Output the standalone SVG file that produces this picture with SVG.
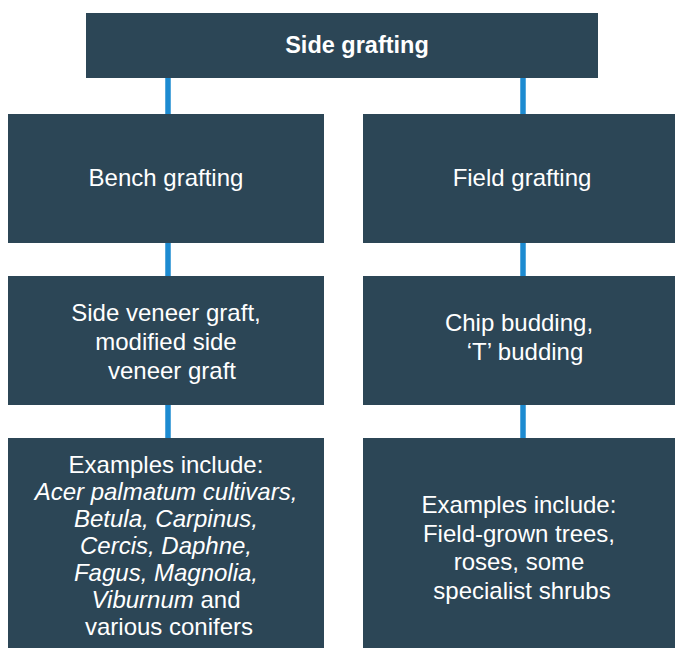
<svg xmlns="http://www.w3.org/2000/svg" width="675" height="648" viewBox="0 0 675 648">
<style>
.box{fill:#2c4656}
.t{font-family:"Liberation Sans",Arial,Helvetica,sans-serif;font-size:24px;fill:#ffffff;text-anchor:middle}
.b{font-weight:bold;font-size:23.5px}
.i{font-style:italic}
.c{stroke:#1d8bd1;stroke-width:5.5;fill:none}
</style>
<rect width="675" height="648" fill="#ffffff"/>
<g id="connectors">
<line class="c" x1="168" y1="77" x2="168" y2="115"/>
<line class="c" x1="523" y1="77" x2="523" y2="115"/>
<line class="c" x1="168" y1="242" x2="168" y2="277"/>
<line class="c" x1="523" y1="242" x2="523" y2="277"/>
<line class="c" x1="168" y1="404" x2="168" y2="439"/>
<line class="c" x1="523" y1="404" x2="523" y2="439"/>
</g>
<g id="side-grafting">
<rect class="box" x="86" y="13" width="512" height="65"/>
<text class="t b" x="357" y="53">Side grafting</text>
</g>
<g id="bench-grafting">
<rect class="box" x="8" y="114" width="316" height="129"/>
<text class="t" x="166" y="186">Bench grafting</text>
</g>
<g id="field-grafting">
<rect class="box" x="363" y="114" width="312" height="129"/>
<text class="t" x="522" y="186">Field grafting</text>
</g>
<g id="side-veneer">
<rect class="box" x="8" y="276" width="316" height="129"/>
<text class="t" x="166" y="321">Side veneer graft,</text>
<text class="t" x="166" y="350">modified side</text>
<text class="t" x="172" y="379">veneer graft</text>
</g>
<g id="chip-budding">
<rect class="box" x="363" y="276" width="312" height="129"/>
<text class="t" x="519" y="331">Chip budding,</text>
<text class="t" x="525" y="360">‘T’ budding</text>
</g>
<g id="bench-examples">
<rect class="box" x="8" y="438" width="316" height="210"/>
<text class="t" x="166" y="473">Examples include:</text>
<text class="t i" x="166" y="500">Acer palmatum cultivars,</text>
<text class="t i" x="166" y="527">Betula, Carpinus,</text>
<text class="t i" x="166" y="554">Cercis, Daphne,</text>
<text class="t i" x="166" y="581">Fagus, Magnolia,</text>
<text class="t" x="166" y="608"><tspan class="i">Viburnum</tspan> and</text>
<text class="t" x="169" y="635">various conifers</text>
</g>
<g id="field-examples">
<rect class="box" x="363" y="438" width="312" height="210"/>
<text class="t" x="519" y="513">Examples include:</text>
<text class="t" x="519" y="542">Field-grown trees,</text>
<text class="t" x="519" y="570">roses, some</text>
<text class="t" x="522" y="599">specialist shrubs</text>
</g>
</svg>
